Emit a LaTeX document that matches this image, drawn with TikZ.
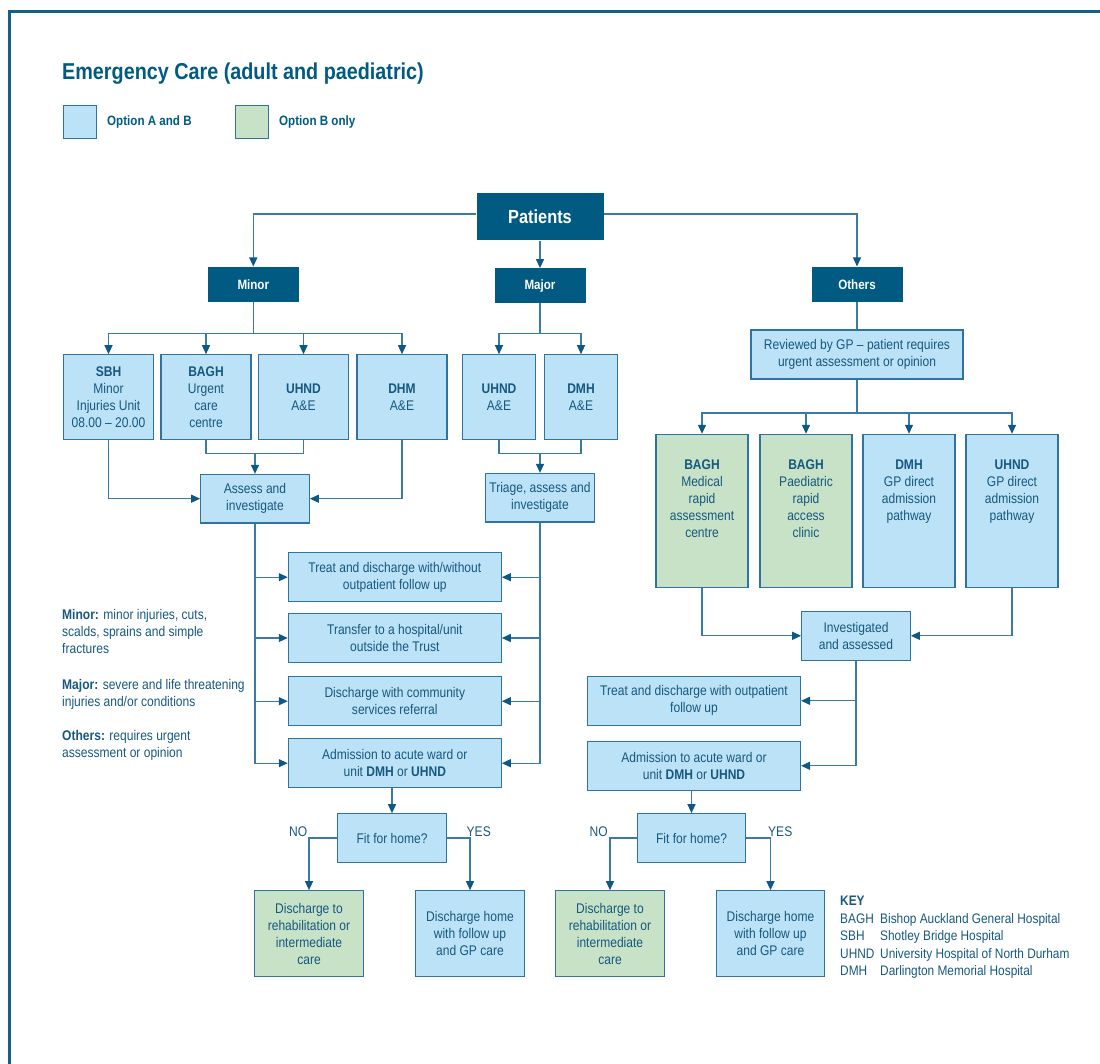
\documentclass[tikz,border=0pt]{standalone}
\usepackage{fontspec}
\setmainfont{Liberation Sans}[FakeStretch=0.86]
\usepackage{tikz}
\usetikzlibrary{arrows.meta}
\definecolor{Navy}{HTML}{005A82}
\definecolor{Frame}{HTML}{15608A}
\definecolor{Ink}{HTML}{16587F}
\definecolor{Edge}{HTML}{2F74A0}
\definecolor{Wire}{HTML}{3A7BA6}
\definecolor{Tip}{HTML}{0D5884}
\definecolor{SoftBlue}{HTML}{BCE2F7}
\definecolor{SoftGreen}{HTML}{C7E2C6}
\newcommand{\toptext}[1]{\parbox[c][150pt][t]{90pt}{\centering\vspace*{24pt}#1}}

\begin{document}
\begin{tikzpicture}[
  x=1pt, y=-1pt,
  font=\fontsize{14}{16.9}\selectfont,
  text=Ink,
  headbox/.style={fill=Navy, text=white, inner sep=0pt, font=\fontsize{13.5}{16}\selectfont\bfseries, minimum width=91pt, minimum height=35pt},
  topbox/.style={headbox, font=\fontsize{19}{22}\selectfont\bfseries, minimum width=127pt, minimum height=47pt},
  box/.style={draw=Edge, line width=1.1pt, fill=SoftBlue, align=center, inner sep=0pt},
  greenbox/.style={box, fill=SoftGreen},
  sitebox/.style={box, minimum width=90pt, minimum height=84.3pt},
  majorsite/.style={box, minimum width=73pt, minimum height=84.3pt},
  gpbox/.style={box, minimum width=92pt, minimum height=152.7pt},
  gpgreen/.style={gpbox, fill=SoftGreen},
  widebox/.style={box, minimum width=213pt, minimum height=49pt},
  midbox/.style={box, minimum width=108.6pt, minimum height=48.6pt},
  endbox/.style={box, minimum width=108.6pt, minimum height=86pt},
  endgreen/.style={endbox, fill=SoftGreen},
  legendtext/.style={anchor=west, inner sep=0pt, text=Navy, font=\fontsize{13.5}{16}\selectfont\bfseries},
  note/.style={anchor=north west, align=left, inner sep=0pt},
  wire/.style={line width=1.25pt, draw=Wire},
  arrow/.style={wire, -{Triangle[length=9pt, width=8pt, color=Tip]}}
]
\useasboundingbox (0,0) rectangle (1100,1064);
\draw[line width=2.6pt, draw=Frame] (9.5,1064) -- (9.5,11.5) -- (1100,11.5);

\node[anchor=base west, inner sep=0pt, text=Navy, font=\fontsize{23}{27}\selectfont\bfseries] (title) at (62,80) {Emergency Care (adult and paediatric)};
\node[box, minimum width=33pt, minimum height=33pt] (legA) at (80,122) {};
\node[legendtext] (legAlabel) at (107,122) {Option A and B};
\node[greenbox, minimum width=33pt, minimum height=33pt] (legB) at (251.7,122) {};
\node[legendtext] (legBlabel) at (279,122) {Option B only};

\node[topbox] (patients) at (540,217) {Patients};
\node[headbox] (minor) at (253.3,284.2) {Minor};
\node[headbox] (major) at (540,285.8) {Major};
\node[headbox] (others) at (857,284.2) {Others};

\coordinate (minorbar) at (253.3,333.7);
\coordinate (majorbar) at (540,333.7);
\coordinate (otherbar) at (857,413);
\coordinate (minorjoin) at (255,453.3);
\coordinate (majorjoin) at (540,453.3);

\node[sitebox] (sbh) at (108.5,396.9) {\textbf{SBH}\\Minor\\Injuries Unit\\08.00 -- 20.00};
\node[sitebox] (baghU) at (206,396.9) {\textbf{BAGH}\\Urgent\\care\\centre};
\node[sitebox] (uhndA) at (303.5,396.9) {\textbf{UHND}\\A\&E};
\node[sitebox] (dhmA) at (402,396.9) {\textbf{DHM}\\A\&E};
\node[majorsite] (uhndB) at (499,396.9) {\textbf{UHND}\\A\&E};
\node[majorsite] (dmhB) at (581,396.9) {\textbf{DMH}\\A\&E};

\node[box, minimum width=212pt, minimum height=49pt] (reviewed) at (857,354.5) {Reviewed by GP -- patient requires\\urgent assessment or opinion};
\node[gpgreen] (baghM) at (702,510.7) {\toptext{\textbf{BAGH}\\Medical\\rapid\\assessment\\centre}};
\node[gpgreen] (baghP) at (806,510.7) {\toptext{\textbf{BAGH}\\Paediatric\\rapid\\access\\clinic}};
\node[gpbox] (dmhG) at (909,510.7) {\toptext{\textbf{DMH}\\GP direct\\admission\\pathway}};
\node[gpbox] (uhndG) at (1012,510.7) {\toptext{\textbf{UHND}\\GP direct\\admission\\pathway}};

\node[midbox] (assess) at (255,498.7) {Assess and\\investigate};
\node[midbox] (triage) at (540,497.7) {Triage, assess and\\investigate};

\node[widebox] (treatL) at (394.8,577.2) {Treat and discharge with/without\\outpatient follow up};
\node[widebox] (transL) at (394.8,638) {Transfer to a hospital/unit\\outside the Trust};
\node[widebox] (commL) at (394.8,701.2) {Discharge with community\\services referral};
\node[widebox] (admitL) at (394.8,763.2) {Admission to acute ward or\\unit \textbf{DMH} or \textbf{UHND}};

\node[midbox] (invest) at (856,635.8) {Investigated\\and assessed};
\node[widebox] (treatR) at (694,700.8) {Treat and discharge with outpatient\\follow up};
\node[widebox] (admitR) at (694,765.8) {Admission to acute ward or\\unit \textbf{DMH} or \textbf{UHND}};

\node[midbox] (fitL) at (392,838) {Fit for home?};
\node[midbox] (fitR) at (691.5,838) {Fit for home?};
\node[anchor=base east, inner sep=0pt] (noL) at (307.5,836.7) {NO};
\node[anchor=base west, inner sep=0pt] (yesL) at (466.5,836.7) {YES};
\node[anchor=base east, inner sep=0pt] (noR) at (608,836.7) {NO};
\node[anchor=base west, inner sep=0pt] (yesR) at (768,836.7) {YES};

\node[endgreen] (rehabL) at (309,933.7) {Discharge to\\rehabilitation or\\intermediate\\care};
\node[endbox] (homeL) at (470,933.7) {Discharge home\\with follow up\\and GP care};
\node[endgreen] (rehabR) at (610,933.7) {Discharge to\\rehabilitation or\\intermediate\\care};
\node[endbox] (homeR) at (770.5,933.7) {Discharge home\\with follow up\\and GP care};

\node[note] (noteMinor) at (62,609.5) {\textbf{Minor:} minor injuries, cuts,\\scalds, sprains and simple\\fractures};
\node[note] (noteMajor) at (62,678.8) {\textbf{Major:} severe and life threatening\\injuries and/or conditions};
\node[note] (noteOthers) at (62,730.5) {\textbf{Others:} requires urgent\\assessment or opinion};

\node[anchor=north west, inner sep=0pt, font=\fontsize{13.8}{17.5}\selectfont] (key) at (840,893.5) {\begin{tabular}{@{}p{40pt}@{}l@{}}
\textbf{KEY} & \\
BAGH & Bishop Auckland General Hospital\\
SBH & Shotley Bridge Hospital\\
UHND & University Hospital of North Durham\\
DMH & Darlington Memorial Hospital
\end{tabular}};

\draw[arrow] ([yshift=3pt]patients.west) -| (minor.north);
\draw[arrow] (patients) -- (major);
\draw[arrow] ([yshift=3pt]patients.east) -| (others.north);

\draw[wire] (minor) -- (minorbar);
\draw[arrow] (minorbar) -| (sbh.north);
\draw[arrow] (minorbar) -| (baghU.north);
\draw[arrow] (minorbar) -| (uhndA.north);
\draw[arrow] (minorbar) -| (dhmA.north);
\draw[wire] (major) -- (majorbar);
\draw[arrow] (majorbar) -| (uhndB.north);
\draw[arrow] (majorbar) -| (dmhB.north);

\draw[wire] (others) -- (reviewed);
\draw[wire] (reviewed) -- (otherbar);
\draw[arrow] (otherbar) -| (baghM.north);
\draw[arrow] (otherbar) -| (baghP.north);
\draw[arrow] (otherbar) -| (dmhG.north);
\draw[arrow] (otherbar) -| (uhndG.north);

\draw[arrow] (sbh.south) |- (assess.west);
\draw[arrow] (dhmA.south) |- (assess.east);
\draw[wire] (baghU.south) |- (minorjoin) -| (uhndA.south);
\draw[arrow] (minorjoin) -- (assess);
\draw[wire] (uhndB.south) |- (majorjoin) -| (dmhB.south);
\draw[arrow] (majorjoin) -- (triage);

\draw[arrow] (assess.south) |- (treatL.west);
\draw[arrow] (assess.south) |- (transL.west);
\draw[arrow] (assess.south) |- (commL.west);
\draw[arrow] (assess.south) |- (admitL.west);
\draw[arrow] (triage.south) |- (treatL.east);
\draw[arrow] (triage.south) |- (transL.east);
\draw[arrow] (triage.south) |- (commL.east);
\draw[arrow] (triage.south) |- (admitL.east);

\draw[arrow] (baghM.south) |- (invest.west);
\draw[arrow] (uhndG.south) |- (invest.east);
\draw[arrow] (invest.south) |- (treatR.east);
\draw[arrow] (invest.south) |- (admitR.east);

\draw[arrow] (admitL.south -| fitL.north) -- (fitL.north);
\draw[arrow] (admitR.south -| fitR.north) -- (fitR.north);
\draw[arrow] (fitL.west) -| (rehabL.north);
\draw[arrow] (fitL.east) -| (homeL.north);
\draw[arrow] (fitR.west) -| (rehabR.north);
\draw[arrow] (fitR.east) -| (homeR.north);
\end{tikzpicture}
\end{document}
